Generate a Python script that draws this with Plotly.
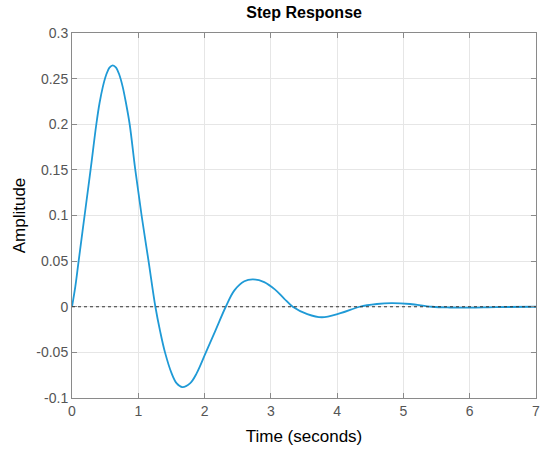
import plotly.graph_objects as go

# step response
time_s = [0, 0.05, 0.1, 0.19, 0.28, 0.367, 0.415, 0.465, 0.515, 0.565, 0.615, 0.665,
          0.715, 0.765, 0.815, 0.87, 0.955, 1.05, 1.155, 1.258, 1.33, 1.403, 1.503,
          1.58, 1.664, 1.78, 1.88, 2.02, 2.167, 2.32, 2.45, 2.6, 2.73, 2.9, 3.06, 3.2,
          3.33, 3.55, 3.77, 4.05, 4.34, 4.6, 4.82, 5.1, 5.43, 5.7, 6.0, 6.4, 7.0]
amplitude = [0, 0.022, 0.05, 0.1, 0.15, 0.2, 0.223, 0.241, 0.254, 0.262, 0.2646, 0.262,
             0.254, 0.241, 0.223, 0.2, 0.15, 0.1, 0.05, 0, -0.027, -0.05, -0.073,
             -0.084, -0.088, -0.084, -0.073, -0.05, -0.0255, 0, 0.018, 0.028, 0.030, 0.027,
             0.019, 0.009, 0, -0.008, -0.0115, -0.007, 0, 0.003, 0.004, 0.003, 0, -0.0008,
             -0.001, -0.0004, 0]

xticks = [0, 1, 2, 3, 4, 5, 6, 7]
yticks = [-0.1, -0.05, 0, 0.05, 0.1, 0.15, 0.2, 0.25, 0.3]
ylabels = ['-0.1', '-0.05', '0', '0.05', '0.1', '0.15', '0.2', '0.25', '0.3']

fig = go.Figure()
fig.add_trace(go.Scatter(x=time_s, y=amplitude, mode='lines',
                         line=dict(color='#1f9ad6', width=1.8, shape='spline', smoothing=1.0),
                         showlegend=False))
# dotted steady-state line
fig.add_hline(y=0, line=dict(color='#333333', width=1, dash='dot'))

axis_style = dict(showline=True, mirror='ticks', linecolor='#8a8a8a', linewidth=1,
                  ticks='inside', ticklen=5, tickcolor='#8a8a8a', automargin=False,
                  showgrid=True, gridcolor='#e6e6e6', gridwidth=1, zeroline=False,
                  tickfont=dict(family='Liberation Sans', size=14, color='#555555'))

fig.update_xaxes(range=[0, 7], tickvals=xticks, **axis_style,
                 title=dict(text='Time (seconds)', standoff=12,
                            font=dict(family='Liberation Sans', size=17, color='black')))
fig.update_yaxes(range=[-0.1, 0.3], tickvals=yticks, ticktext=ylabels, **axis_style,
                 title=dict(text='Amplitude', standoff=6,
                            font=dict(family='Liberation Sans', size=17, color='black')))

fig.update_layout(
    width=550, height=458,
    margin=dict(l=72, r=14, t=33, b=60),
    paper_bgcolor='white', plot_bgcolor='white',
    title=dict(text='<b>Step Response</b>', x=0.553, xanchor='center', y=0.972, yanchor='middle',
               font=dict(family='Liberation Sans', size=16, color='black')),
)

# page body has an 8px default margin; drop it so the figure sits at the corner
fig.write_html("out.html", config={'displayModeBar': False},
               post_script="document.body.style.margin='0';")
